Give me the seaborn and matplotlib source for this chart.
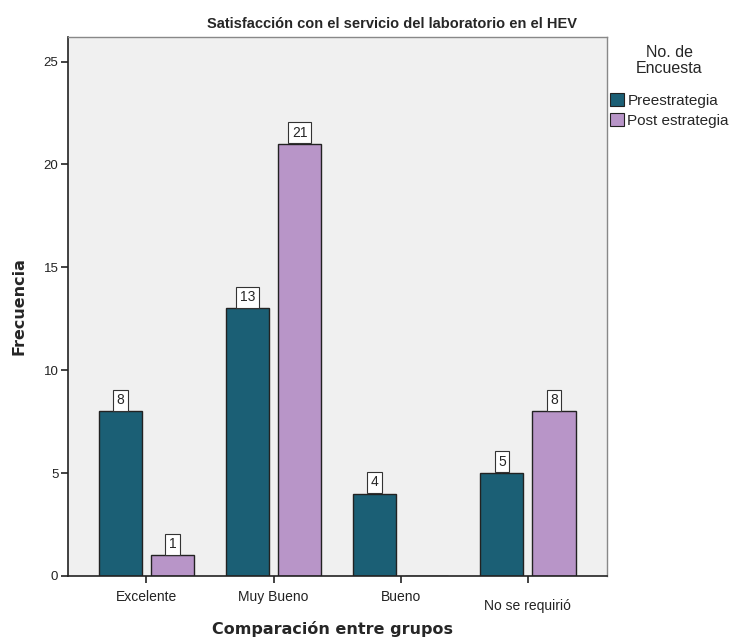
import matplotlib
matplotlib.use("Agg")
import matplotlib.pyplot as plt
import seaborn as sns
import pandas as pd
from matplotlib.patches import Patch
from matplotlib import transforms

# Survey results: satisfaction with the laboratory service
categorias = ["Excelente", "Muy Bueno", "Bueno", "No se requirió"]
grupos = ["Preestrategia", "Post estrategia"]
preestrategia = [8, 13, 4, 5]
post_estrategia = [1, 21, 0, 8]
y_ticks = [0, 5, 10, 15, 20, 25]

colores = {"Preestrategia": "#1b5f75", "Post estrategia": "#b895c8"}

df = pd.DataFrame({
    "Categoria": categorias * 2,
    "Grupo": [grupos[0]] * len(categorias) + [grupos[1]] * len(categorias),
    "Frecuencia": preestrategia + post_estrategia,
})

sns.set_theme(style="white")
plt.rcParams["font.family"] = ["Liberation Sans", "DejaVu Sans"]

fig = plt.figure(figsize=(7.4, 6.37), dpi=100)
ax = fig.add_axes([0.092, 0.096, 0.728, 0.846])
ax.set_facecolor("#f0f0f0")

sns.barplot(data=df, x="Categoria", y="Frecuencia", hue="Grupo",
            order=categorias, hue_order=grupos, palette=colores,
            saturation=1, width=0.82, gap=0.17, edgecolor="#222222",
            linewidth=1.0, legend=False, ax=ax)

ax.set_xlim(-0.615, 3.62)
ax.set_ylim(0, 26.2)
ax.set_yticks(y_ticks)
ax.set_yticklabels([str(v) for v in y_ticks], fontsize=9.5)

# Boxed value labels above each bar
for cont in ax.containers:
    for bar in cont:
        h = bar.get_height()
        if h <= 0:
            continue
        xc = bar.get_x() + bar.get_width() / 2
        ax.annotate(f"{int(h)}", xy=(xc, h), xytext=(0, 3),
                    textcoords="offset points", ha="center", va="bottom",
                    fontsize=10,
                    bbox=dict(boxstyle="square,pad=0.25", fc="white",
                              ec="#333333", lw=0.8),
                    arrowprops=dict(arrowstyle="-", color="#333333", lw=0.8,
                                    shrinkA=0, shrinkB=0))

ax.tick_params(axis="y", direction="out", length=5, width=1.2, color="#222222",
               left=True, pad=2)
ax.tick_params(axis="x", direction="out", length=5, width=1.2, color="#222222",
               bottom=True, pad=5, labelsize=10)
for lbl in ax.get_xticklabels():
    lbl.set_color("#222222")
    if lbl.get_text() == "No se requirió":
        lbl.set_transform(lbl.get_transform() +
                          transforms.ScaledTranslation(0, -7 / 72, fig.dpi_scale_trans))
for lbl in ax.get_yticklabels():
    lbl.set_color("#222222")

for side in ["left", "bottom"]:
    ax.spines[side].set_color("#222222")
    ax.spines[side].set_linewidth(1.2)
for side in ["top", "right"]:
    ax.spines[side].set_color("#888888")
    ax.spines[side].set_linewidth(1.0)

ax.set_xlabel("Comparación entre grupos", fontsize=11.5, fontweight="bold",
              family=["DejaVu Sans"], labelpad=4)
ax.set_ylabel("Frecuencia", fontsize=11.5, fontweight="bold",
              family=["DejaVu Sans"], labelpad=12)
ax.xaxis.set_label_coords(0.49, -0.083)

fig.text(0.53, 0.963, "Satisfacción con el servicio del laboratorio en el HEV",
         ha="center", va="center", fontsize=10.5, fontweight="bold",
         family=["Liberation Sans Narrow", "Liberation Sans", "DejaVu Sans"])

handles = [Patch(facecolor=colores[g], edgecolor="#222222", lw=0.8) for g in grupos]
leg = fig.legend(handles, grupos, title="No. de\nEncuesta",
                 loc="upper left", bbox_to_anchor=(0.824, 0.93),
                 frameon=False, fontsize=11, title_fontsize=11.5,
                 handlelength=0.9, handleheight=0.9, handletextpad=0.25,
                 labelspacing=0.35, borderaxespad=0, borderpad=0)
leg.get_title().set_ha("center")
leg.get_title().set_linespacing(1.15)
leg._legend_box.align = "center"
leg._legend_box.sep = 12

fig.savefig("out.png", dpi=100, facecolor="white")
